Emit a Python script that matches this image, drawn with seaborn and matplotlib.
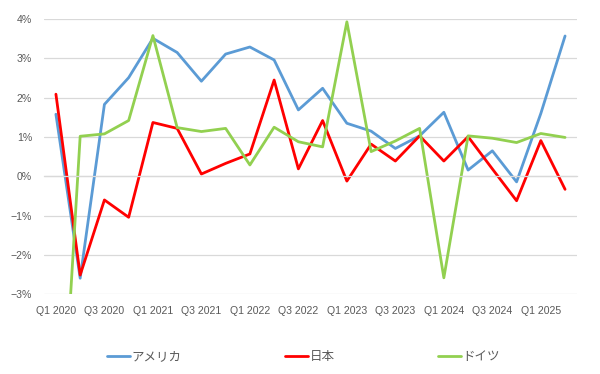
import numpy as np
import pandas as pd
import seaborn as sns
import matplotlib.pyplot as plt
from matplotlib.ticker import FixedLocator, PercentFormatter

quarters = [
    "Q1 2020", "Q2 2020", "Q3 2020", "Q4 2020",
    "Q1 2021", "Q2 2021", "Q3 2021", "Q4 2021",
    "Q1 2022", "Q2 2022", "Q3 2022", "Q4 2022",
    "Q1 2023", "Q2 2023", "Q3 2023", "Q4 2023",
    "Q1 2024", "Q2 2024", "Q3 2024", "Q4 2024",
    "Q1 2025", "Q2 2025",
]
usa = [1.58, -2.59, 1.83, 2.51, 3.51, 3.15, 2.42, 3.11, 3.29, 2.96, 1.69, 2.24,
       1.35, 1.15, 0.71, 1.03, 1.63, 0.16, 0.65, -0.14, 1.60, 3.57]
japan = [2.09, -2.51, -0.60, -1.04, 1.37, 1.22, 0.06, 0.33, 0.57, 2.45, 0.19, 1.42,
         -0.12, 0.82, 0.39, 1.03, 0.39, 1.01, 0.19, -0.62, 0.91, -0.33]
germany = [-9.2, 1.02, 1.08, 1.42, 3.58, 1.24, 1.14, 1.22, 0.29, 1.25, 0.88, 0.75,
           3.93, 0.63, 0.90, 1.22, -2.58, 1.03, 0.97, 0.86, 1.09, 0.99]
series_names = ["アメリカ", "日本", "ドイツ"]
colors = ["#5B9BD5", "#FF0000", "#92D050"]

df = pd.DataFrame({"quarter": quarters, "アメリカ": usa, "日本": japan, "ドイツ": germany})
df["idx"] = np.arange(len(quarters))
long_df = df.melt(id_vars=["quarter", "idx"], value_vars=series_names,
                  var_name="country", value_name="growth")

sns.set_theme(style="white")
plt.rcParams["font.family"] = ["Liberation Sans", "Noto Sans CJK JP", "DejaVu Sans"]

fig = plt.figure(figsize=(6, 3.74), dpi=100)
ax = fig.add_axes([0.073, 0.213, 0.889, 0.736])

sns.lineplot(data=long_df, x="idx", y="growth", hue="country", hue_order=series_names,
             palette=colors, linewidth=2, ax=ax, legend=True, clip_on=True)

ax.set_xlim(-0.5, len(quarters) - 0.5)
ax.set_ylim(-3, 4)
ax.set_yticks(range(-3, 5))
ax.yaxis.set_major_formatter(PercentFormatter(decimals=0))
ax.grid(axis="y", color="#D9D9D9", linewidth=0.9)
ax.set_axisbelow(True)
ax.tick_params(axis="y", length=0, pad=8.5, labelsize=7.6, labelcolor="#595959")
ax.set_xlabel("")
ax.set_ylabel("")
for s in ["left", "right", "top"]:
    ax.spines[s].set_visible(False)

# horizontal axis line at 0% with category tick marks
ax.spines["bottom"].set_position(("data", 0))
ax.spines["bottom"].set_color("#D9D9D9")
ax.spines["bottom"].set_linewidth(0.9)
ax.set_xticks(np.arange(-0.5, len(quarters), 1.0))
ax.set_xticklabels([])
ax.tick_params(axis="x", length=3.5, width=0.9, color="#D9D9D9", direction="out")

# category labels at the bottom of the plot area
sec = ax.secondary_xaxis("bottom")
sec.xaxis.set_major_locator(FixedLocator(list(range(0, len(quarters), 2))))
sec.set_xticklabels(quarters[::2])
sec.tick_params(length=0, pad=8.5, labelsize=7.6, labelcolor="#595959")
sec.spines["bottom"].set_visible(False)

handles, labels = ax.get_legend_handles_labels()
ax.get_legend().remove()
leg = fig.legend(handles, labels, loc="center", bbox_to_anchor=(0.506, 0.0455), ncol=3,
                 frameon=False, fontsize=9, handlelength=1.8, handletextpad=0.15,
                 columnspacing=8.3, labelcolor="#595959")

fig.savefig("out.png", dpi=100)
